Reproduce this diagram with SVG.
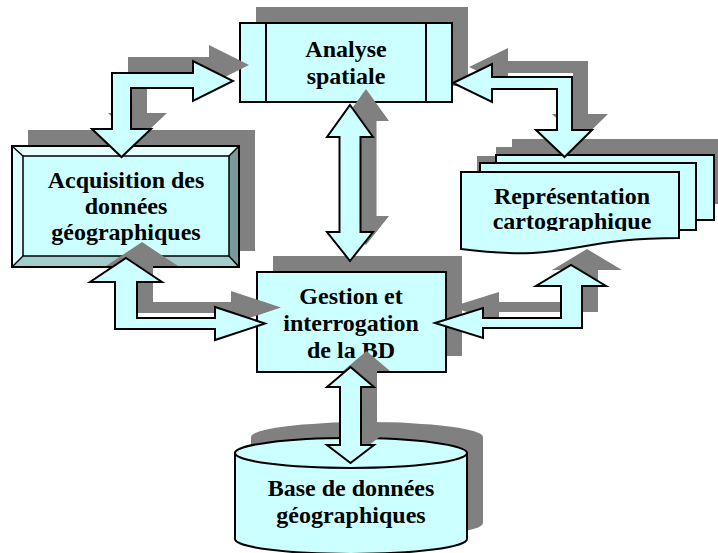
<svg xmlns="http://www.w3.org/2000/svg" width="718" height="553" viewBox="0 0 718 553">
<style>
.f{fill:#CCFFFF;stroke:#000;stroke-width:2;stroke-linejoin:miter}
.s{fill:#808080;stroke:none}
.l{fill:none;stroke:#000;stroke-width:2}
.t{font-family:"Liberation Serif","Times New Roman",serif;font-weight:bold;font-size:24px;fill:#000;text-anchor:middle}
</style>
<defs>
<clipPath id="repclip"><rect x="440" y="150" width="270" height="81"/></clipPath>
<polygon id="a1" points="112,73 193,73 193,61 233,81 193,101 193,88 131,88 131,129 151,129 121.5,157 92,129 112,129"/>
<polygon id="a2" points="453,83 492,64 492,77 572,77 572,130 592,130 564.5,157 536,130 557,130 557,89 492,89 492,102"/>
<polygon id="a3" points="350,105 373,137 360.5,137 360.5,232 373,232 350,261 327,232 339.5,232 339.5,137 327,137"/>
<polygon id="a4" points="126,258 162,282 137,282 137,318 215,318 215,307 265,323.5 215,340 215,329 115,329 115,282 90,282"/>
<polygon id="a5" points="435,323 483,308 483,318 561,318 561,286 536,286 571,265 606,286 582,286 582,328 483,328 483,338"/>
<polygon id="a6" points="350.5,367 374,387 361,387 361,445 374,445 350.5,463 327,445 340,445 340,387 327,387"/>
<path id="p3" d="M496,155 L714,155 L714,220 L496,220 Z"/>
<path id="p2" d="M480,163 L696,163 L696,230 L480,230 Z"/>
<path id="p1" d="M461,172 L679,172 L679,238 C570,238 570,263 461,249 Z"/>
<path id="cyl" d="M235,453 L235,539 A116,15 0 0 0 467,539 L467,453 A116,15 0 0 0 235,453 Z"/>
</defs>

<g id="node-analyse">
<rect class="s" x="256" y="7" width="212" height="79"/>
<rect class="f" x="240" y="23" width="212" height="79"/>
<line class="l" x1="266" y1="23" x2="266" y2="102"/>
<line class="l" x1="426" y1="23" x2="426" y2="102"/>
<text class="t" x="346" y="57">Analyse</text>
<text class="t" x="346" y="83.5">spatiale</text>
</g>

<g id="node-acquisition">
<rect class="s" x="28" y="130" width="227" height="121"/>
<rect x="12" y="146" width="227" height="121" fill="#CCFFFF"/>
<polygon points="12,146 239,146 229,156 23,156" fill="#E6FFFF"/>
<polygon points="12,146 23,156 23,256 12,267" fill="#DDFFFF"/>
<polygon points="239,146 239,267 229,256 229,156" fill="#7A9999"/>
<polygon points="12,267 23,256 229,256 239,267" fill="#A3CCCC"/>
<rect x="12" y="146" width="227" height="121" fill="none" stroke="#000" stroke-width="2"/>
<rect x="23" y="156" width="206" height="100" fill="none" stroke="#000" stroke-width="1.5"/>
<line x1="12" y1="146" x2="23" y2="156" stroke="#000" stroke-width="1.5"/>
<line x1="239" y1="146" x2="229" y2="156" stroke="#000" stroke-width="1.5"/>
<line x1="12" y1="267" x2="23" y2="256" stroke="#000" stroke-width="1.5"/>
<line x1="239" y1="267" x2="229" y2="256" stroke="#000" stroke-width="1.5"/>
<text class="t" x="126" y="188">Acquisition des</text>
<text class="t" x="126" y="214">données</text>
<text class="t" x="126" y="240">géographiques</text>
</g>

<g id="node-representation">
<g transform="translate(16,-16)">
<use href="#p3" class="s"/>
<use href="#p2" class="s"/>
<use href="#p1" class="s"/>
</g>
<use href="#p3" class="f"/>
<use href="#p2" class="f"/>
<use href="#p1" class="f"/>
<g clip-path="url(#repclip)">
<text class="t" x="572" y="204">Représentation</text>
<text class="t" x="572" y="229">cartographique</text>
</g>
</g>

<g id="node-gestion">
<rect class="s" x="273" y="256" width="189" height="100"/>
<rect class="f" x="257" y="272" width="189" height="100"/>
<text class="t" x="351" y="304">Gestion et</text>
<text class="t" x="351" y="331">interrogation</text>
<text class="t" x="351" y="358">de la BD</text>
</g>

<g id="node-base">
<use href="#cyl" class="s" transform="translate(16,-16)"/>
<use href="#cyl" class="f"/>
<path class="l" d="M235,453 A116,15 0 0 0 467,453"/>
<text class="t" x="351" y="496">Base de données</text>
<text class="t" x="351" y="523">géographiques</text>
</g>

<g id="connectors">
<use href="#a1" class="s" transform="translate(16,-16)"/>
<use href="#a1" class="f"/>
<use href="#a2" class="s" transform="translate(16,-16)"/>
<use href="#a2" class="f"/>
<use href="#a3" class="s" transform="translate(16,-16)"/>
<use href="#a3" class="f"/>
<use href="#a4" class="s" transform="translate(16,-16)"/>
<use href="#a4" class="f"/>
<use href="#a5" class="s" transform="translate(16,-16)"/>
<use href="#a5" class="f"/>
<use href="#a6" class="s" transform="translate(16,-16)"/>
<use href="#a6" class="f"/>
</g>
</svg>
